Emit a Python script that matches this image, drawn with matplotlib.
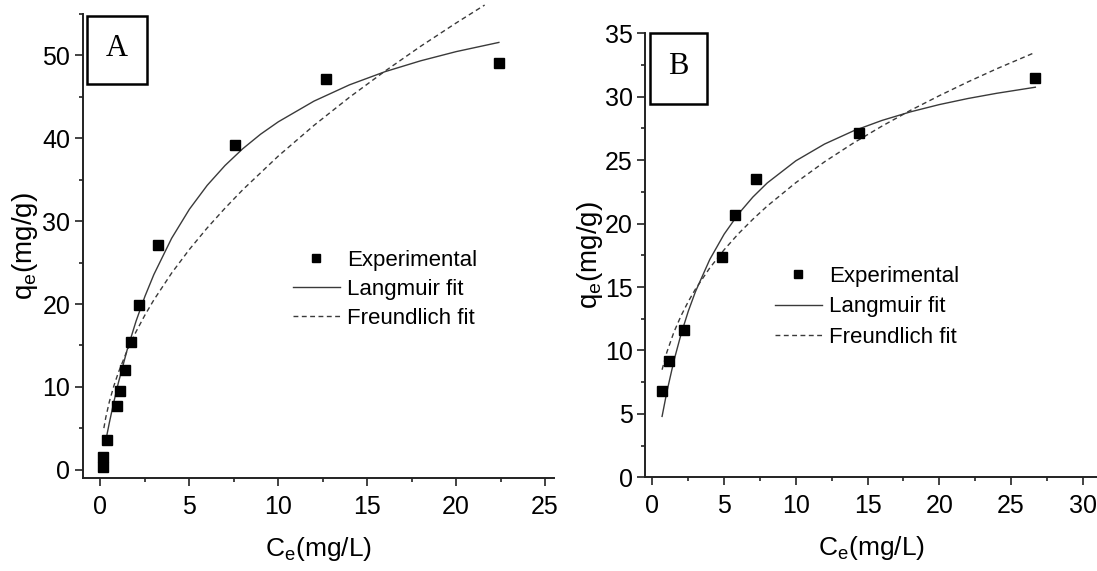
import matplotlib
matplotlib.use("Agg")
import matplotlib.pyplot as plt
from matplotlib.patches import Rectangle
from matplotlib.ticker import MultipleLocator

plt.rcParams['font.family'] = ['Liberation Sans', 'DejaVu Sans']
plt.rcParams['mathtext.default'] = 'regular'

# ---- Panel A data ----
a_ce = [0.12, 0.15, 0.38, 0.94, 1.10, 1.39, 1.73, 2.15, 3.25, 7.57, 12.67, 22.43]
a_qe = [0.3, 1.5, 3.6, 7.65, 9.5, 12.0, 15.4, 19.9, 27.1, 39.2, 47.1, 49.1]
a_lang_x = [0.3, 0.5, 0.75, 1.0, 1.5, 2.0, 2.5, 3.0, 4.0, 5.0, 6.0, 7.0, 8.0, 9.0,
            10, 12, 14, 16, 18, 20, 22.4]
a_lang_y = [3.54, 5.69, 8.17, 10.45, 14.47, 17.93, 20.93, 23.55, 27.93, 31.44, 34.32,
            36.71, 38.74, 40.49, 41.99, 44.48, 46.45, 48.04, 49.35, 50.46, 51.57]
a_freu_x = [0.19, 0.3, 0.5, 0.75, 1.0, 1.5, 2, 2.5, 3, 4, 5, 6, 7, 8, 10, 12, 14,
            16, 18, 20, 21.6]
a_freu_y = [5.02, 6.33, 8.22, 10.10, 11.70, 14.39, 16.66, 18.67, 20.49, 23.73, 26.59,
            29.18, 31.56, 33.79, 37.86, 41.55, 44.95, 48.11, 51.10, 53.92, 56.08]

# ---- Panel B data ----
b_ce = [0.67, 1.15, 2.2, 4.86, 5.75, 7.19, 14.4, 26.7]
b_qe = [6.81, 9.2, 11.58, 17.39, 20.66, 23.48, 27.16, 31.47]
b_lang_x = [0.67, 1.0, 1.5, 2, 2.5, 3, 4, 5, 6, 7, 8, 10, 12, 14, 16, 18, 20, 22, 24, 26.7]
b_lang_y = [4.80, 6.72, 9.21, 11.31, 13.10, 14.64, 17.18, 19.17, 20.77, 22.09, 23.20,
            24.95, 26.27, 27.30, 28.13, 28.81, 29.38, 29.86, 30.27, 30.75]
b_freu_x = [0.67, 1.0, 1.5, 2, 2.5, 3, 4, 5, 6, 7, 8, 10, 12, 14, 16, 18, 20, 22, 24, 26.7]
b_freu_y = [8.48, 9.85, 11.46, 12.75, 13.86, 14.84, 16.51, 17.94, 19.21, 20.34, 21.38,
            23.23, 24.87, 26.34, 27.68, 28.93, 30.08, 31.17, 32.20, 33.50]

labels = ["Experimental", "Langmuir fit", "Freundlich fit"]
xlabel = "C$_{e}$(mg/L)"
ylabel = "q$_{e}$(mg/g)"

W, H = 1097, 571
fig = plt.figure(figsize=(W / 100, H / 100), dpi=100)


def px_rect(l, t, r, b):
    return [l / W, 1 - b / H, (r - l) / W, (b - t) / H]


axA = fig.add_axes(px_rect(82.7, 14, 554, 478))
axB = fig.add_axes(px_rect(645.3, 33.3, 1097, 477.3))

line_col = '#3a3a3a'
tick_fs = 18
xlab_fs = 19
ylab_fs = 20
leg_fs = 16


def style(ax, xmaj, xmin, ymaj, ymin):
    for s in ['top', 'right']:
        ax.spines[s].set_visible(False)
    for s in ['bottom', 'left']:
        ax.spines[s].set_linewidth(1.4)
        ax.spines[s].set_color('#222222')
    ax.xaxis.set_major_locator(MultipleLocator(xmaj))
    ax.xaxis.set_minor_locator(MultipleLocator(xmin))
    ax.yaxis.set_major_locator(MultipleLocator(ymaj))
    ax.yaxis.set_minor_locator(MultipleLocator(ymin))
    ax.tick_params(which='major', direction='out', length=6, width=1.2,
                   labelsize=tick_fs, color='#222222')
    ax.tick_params(which='minor', direction='out', length=3, width=1.2, color='#222222')
    ax.tick_params(axis='x', which='major', pad=6)
    ax.tick_params(axis='y', which='major', pad=3)


# Panel A
axA.plot(a_lang_x, a_lang_y, '-', color=line_col, lw=1.0, label=labels[1], zorder=2)
axA.plot(a_freu_x, a_freu_y, color=line_col, lw=1.0, linestyle=(0, (3.5, 2.5)),
         label=labels[2], zorder=2, clip_on=False)
axA.plot(a_ce, a_qe, 's', color='black', ms=6.8, label=labels[0], zorder=3, clip_on=False)
axA.set_xlim(-1, 25.5)
axA.set_ylim(-1, 55)
style(axA, 5, 2.5, 10, 5)

# Panel B
axB.plot(b_lang_x, b_lang_y, '-', color=line_col, lw=1.0, label=labels[1], zorder=2)
axB.plot(b_freu_x, b_freu_y, color=line_col, lw=1.0, linestyle=(0, (3.5, 2.5)),
         label=labels[2], zorder=2)
axB.plot(b_ce, b_qe, 's', color='black', ms=6.8, label=labels[0], zorder=3, clip_on=False)
axB.set_xlim(-0.5, 31)
axB.set_ylim(0, 35)
style(axB, 5, 2.5, 5, 2.5)

for ax in (axA, axB):
    ax.set_xlabel(xlabel, fontsize=xlab_fs)
    ax.set_ylabel(ylabel, fontsize=ylab_fs)

axA.xaxis.set_label_coords(0.5, -0.122)
axA.yaxis.set_label_coords(-0.09, 0.5)
axB.xaxis.set_label_coords(0.5, -0.127)
axB.yaxis.set_label_coords(-0.09, 0.5)


def add_legend(ax, left_px, top_px, spacing):
    h, l = ax.get_legend_handles_labels()
    order = [l.index(t) for t in labels]
    leg = ax.legend([h[i] for i in order], [l[i] for i in order],
                    loc='upper left',
                    bbox_to_anchor=(left_px / W, 1 - top_px / H),
                    bbox_transform=fig.transFigure,
                    frameon=False, fontsize=leg_fs, borderpad=0, borderaxespad=0,
                    handlelength=2.1, handletextpad=0.35, labelspacing=spacing,
                    markerscale=0.95)
    return leg


add_legend(axA, 293, 250, 0.36)
add_legend(axB, 775, 266, 0.42)

# panel label boxes
for (l, t, r, b, txt) in [(86.7, 15.7, 146.7, 84, 'A'), (650, 33, 706.7, 104.3, 'B')]:
    rect = Rectangle((l / W, 1 - b / H), (r - l) / W, (b - t) / H,
                     transform=fig.transFigure, fill=True, facecolor='white',
                     edgecolor='black', lw=1.8, zorder=5)
    fig.add_artist(rect)
    fig.text((l + r) / 2 / W, 1 - (t + b) / 2 / H + 0.003, txt, ha='center', va='center',
             fontsize=22, family=['Liberation Serif', 'DejaVu Serif'], zorder=6)

fig.savefig('out.png', dpi=100)
